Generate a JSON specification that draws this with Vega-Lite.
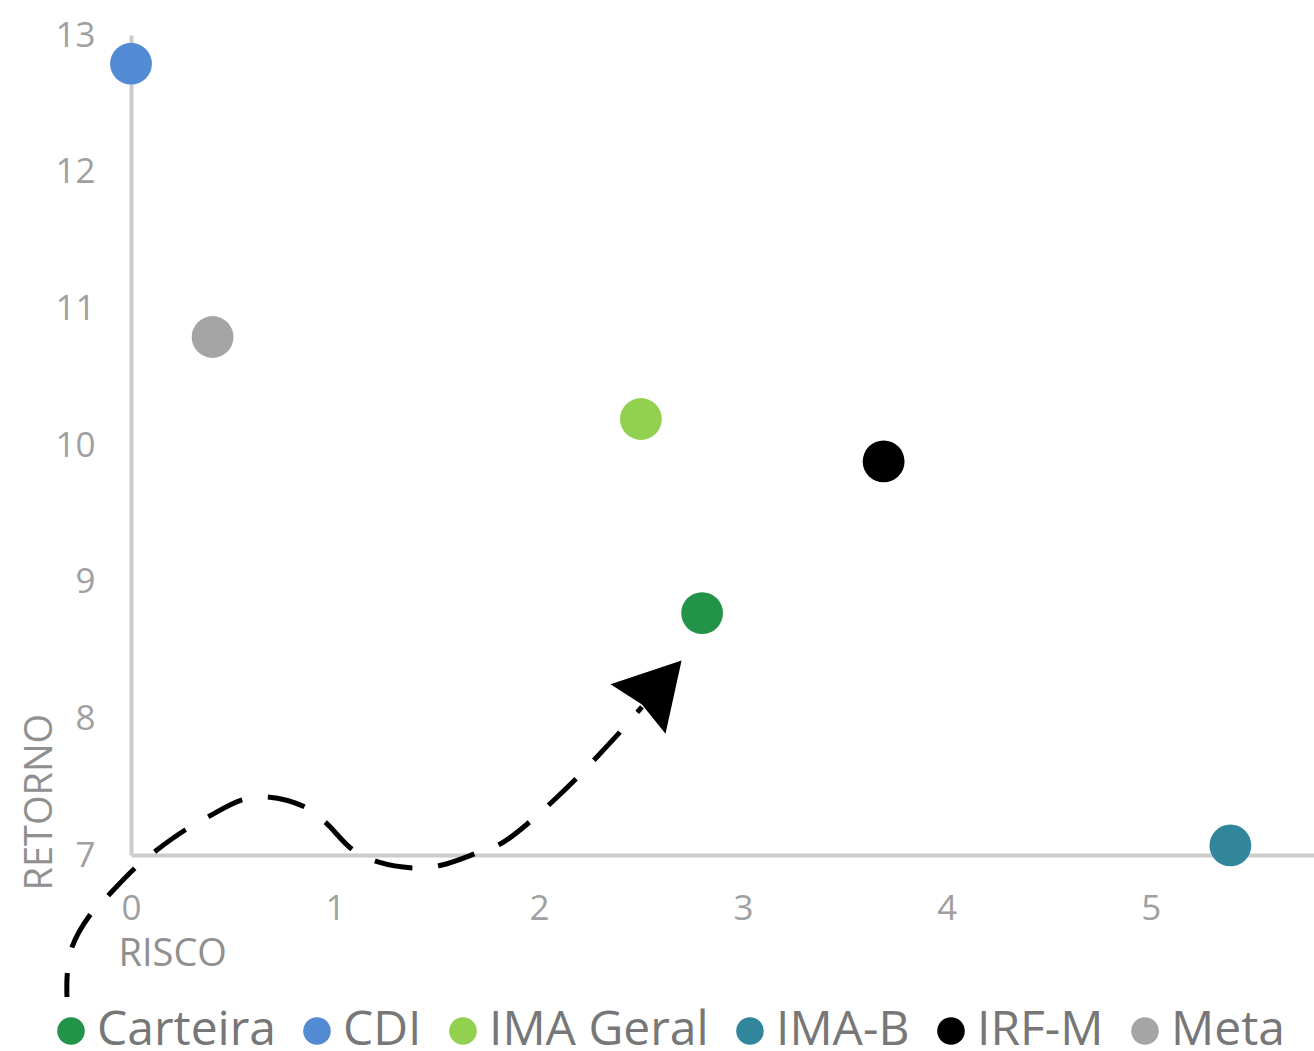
{
  "$schema": "https://vega.github.io/schema/vega-lite/v6.json",
  "width": 1183,
  "height": 820,
  "autosize": {"type": "none"},
  "padding": {"left": 131, "top": 35, "right": 0, "bottom": 196},
  "background": "white",
  "config": {"view": {"stroke": null}, "font": "Open Sans"},
  "datasets": {
    "points": [
      {"serie": "Carteira", "risco": 2.8, "retorno": 8.77},
      {"serie": "CDI", "risco": 0.0, "retorno": 12.79},
      {"serie": "IMA Geral", "risco": 2.5, "retorno": 10.19},
      {"serie": "IMA-B", "risco": 5.39, "retorno": 7.07},
      {"serie": "IRF-M", "risco": 3.69, "retorno": 9.88},
      {"serie": "Meta", "risco": 0.4, "retorno": 10.79}
    ],
    "curve": [
      {"i": 1, "risco": -0.314, "retorno": 5.961},
      {"i": 2, "risco": -0.312, "retorno": 6.137},
      {"i": 3, "risco": -0.289, "retorno": 6.327},
      {"i": 4, "risco": -0.201, "retorno": 6.561},
      {"i": 5, "risco": -0.118, "retorno": 6.693},
      {"i": 6, "risco": 0.02, "retorno": 6.905},
      {"i": 7, "risco": 0.108, "retorno": 7.015},
      {"i": 8, "risco": 0.265, "retorno": 7.183},
      {"i": 9, "risco": 0.377, "retorno": 7.278},
      {"i": 10, "risco": 0.544, "retorno": 7.403},
      {"i": 11, "risco": 0.667, "retorno": 7.425},
      {"i": 12, "risco": 0.853, "retorno": 7.351},
      {"i": 13, "risco": 0.951, "retorno": 7.242},
      {"i": 14, "risco": 1.088, "retorno": 7.037},
      {"i": 15, "risco": 1.211, "retorno": 6.949},
      {"i": 16, "risco": 1.392, "retorno": 6.905},
      {"i": 17, "risco": 1.525, "retorno": 6.927},
      {"i": 18, "risco": 1.696, "retorno": 7.015},
      {"i": 19, "risco": 1.819, "retorno": 7.088},
      {"i": 20, "risco": 1.966, "retorno": 7.256},
      {"i": 21, "risco": 2.064, "retorno": 7.388},
      {"i": 22, "risco": 2.191, "retorno": 7.571},
      {"i": 23, "risco": 2.284, "retorno": 7.717},
      {"i": 24, "risco": 2.407, "retorno": 7.915},
      {"i": 25, "risco": 2.505, "retorno": 8.083}
    ],
    "head": [
      {"risco": 2.578, "retorno": 8.222}
    ]
  },
  "encoding": {
    "x": {
      "field": "risco",
      "type": "quantitative",
      "scale": {"domain": [0, 5.8], "nice": false, "zero": false},
      "axis": {
        "values": [0, 1, 2, 3, 4, 5],
        "title": "RISCO",
        "grid": false,
        "ticks": false,
        "domainColor": "#cccccc",
        "domainWidth": 4,
        "labelFontSize": 35,
        "labelColor": "#a0a0a0",
        "labelPadding": 36,
        "labelFlush": false,
        "labelOverlap": false,
        "titleFontSize": 38,
        "titleColor": "#909090",
        "titleFontWeight": "normal",
        "titleAnchor": "start",
        "titleAlign": "left",
        "titleBaseline": "alphabetic",
        "titleX": -13,
        "titleY": 110
      }
    },
    "y": {
      "field": "retorno",
      "type": "quantitative",
      "scale": {"domain": [7, 13], "nice": false, "zero": false},
      "axis": {
        "values": [7, 8, 9, 10, 11, 12, 13],
        "title": "RETORNO",
        "grid": false,
        "ticks": false,
        "domainColor": "#cccccc",
        "domainWidth": 4,
        "labelFontSize": 35,
        "labelColor": "#a0a0a0",
        "labelPadding": 36,
        "labelFlush": false,
        "labelOverlap": false,
        "titleFontSize": 38,
        "titleColor": "#909090",
        "titleFontWeight": "normal",
        "titleAngle": -90,
        "titleAlign": "left",
        "titleBaseline": "middle",
        "titleX": -91,
        "titleY": 855
      }
    }
  },
  "layer": [
    {
      "data": {"name": "curve"},
      "mark": {
        "type": "line",
        "color": "black",
        "strokeWidth": 5,
        "strokeDash": [38, 26],
        "strokeDashOffset": 14,
        "interpolate": "catmull-rom",
        "clip": false
      },
      "encoding": {"order": {"field": "i", "type": "quantitative"}}
    },
    {
      "data": {"name": "head"},
      "mark": {
        "type": "point",
        "shape": "M0,-1L1,0.76L0,0.6L-1,0.76Z",
        "angle": 42,
        "filled": true,
        "color": "black",
        "size": 5476,
        "opacity": 1
      }
    },
    {
      "data": {"name": "points"},
      "mark": {"type": "point", "filled": true, "size": 1750, "opacity": 1},
      "encoding": {
        "color": {
          "field": "serie",
          "type": "nominal",
          "scale": {
            "domain": ["Carteira", "CDI", "IMA Geral", "IMA-B", "IRF-M", "Meta"],
            "range": ["#24934a", "#528ad4", "#92d050", "#31869b", "#000000", "#a5a5a5"]
          },
          "legend": {
            "orient": "none",
            "legendX": -84,
            "legendY": 972,
            "direction": "horizontal",
            "title": null,
            "labelFontSize": 48,
            "labelLimit": 600,
            "labelColor": "#777777",
            "symbolSize": 760,
            "symbolType": "circle",
            "symbolStrokeWidth": 0,
            "symbolOpacity": 1,
            "labelOffset": 2,
            "columnPadding": 17
          }
        }
      }
    }
  ]
}
